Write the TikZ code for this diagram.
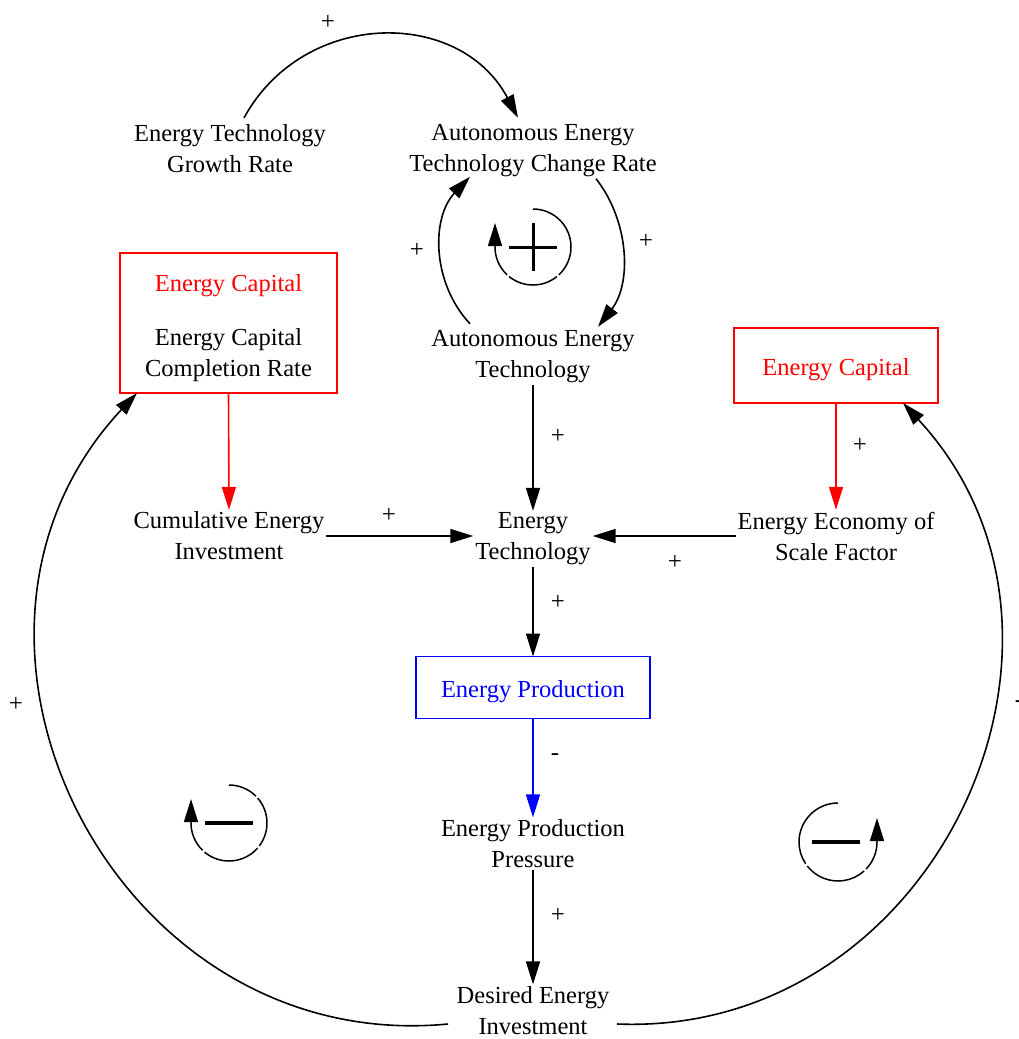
\documentclass[tikz,border=0pt]{standalone}
\usepackage{fontspec}
\setmainfont{Liberation Serif}
\usetikzlibrary{arrows.meta,calc}

\newcommand\varfont{\fontsize{24.5}{31}\selectfont}
\newcommand\signfont{\fontsize{25}{30}\selectfont}

\tikzset{
  var/.style={align=center, inner sep=2pt, outer sep=0pt, font=\varfont},
  sign/.style={inner sep=0pt, font=\signfont},
  box/.style={draw, line width=1.1pt, inner sep=0pt, outer sep=0pt,
              font=\varfont, text height=22pt, text depth=2pt},
  tip/.style={-{Triangle[length=23pt,width=14pt]}},
  link/.style={tip, line width=1.6pt},
  loopline/.style={line width=1.5pt},
}

\begin{document}
\begin{tikzpicture}[x=1pt, y=1pt]
\useasboundingbox (0,0) rectangle (1019,-1039);

% variables
\node[var] (ETGR)  at (230,-148.5) {Energy Technology\\Growth Rate};
\node[var] (AETCR) at (533,-151) {Autonomous Energy\\Technology Change Rate};
\node[var] (AET)   at (533,-357) {Autonomous Energy\\Technology};
\node[var] (CEI)   at (229,-536) {Cumulative Energy\\Investment};
\node[var] (ET)    at (533,-539) {Energy\\Technology};
\node[var] (EESF)  at (836,-536) {Energy Economy of\\Scale Factor};
\node[var] (EPP)   at (533,-843.5) {Energy Production\\Pressure};
\node[var] (DEI)   at (533,-1010.5) {Desired Energy\\Investment};

% boxed variables
\node[box, draw=red, minimum width=217pt, minimum height=140pt] (EC1) at (228.5,-323) {};
\node[var, text=red] (EC1t) at (228.5,-285.5) {Energy Capital};
\node[var] (ECCR) at (228.5,-355) {Energy Capital\\Completion Rate};
\node[box, draw=red, text=red, minimum width=204pt, minimum height=75pt] (EC2) at (836,-365.5) {Energy Capital};
\node[box, draw=blue, text=blue, minimum width=234pt, minimum height=62pt] (EP) at (533,-687.5) {Energy Production};

% curved links
\draw[link] ($(ETGR.north)+(14,4.5)$) .. controls +(61.3:124.5pt) and +(117.9:124.5pt) .. ($(AETCR.north)+(-15,5)$);
\draw[link] ($(AETCR.south)+(63,0.5)$) .. controls +(-51.9:54.6pt) and +(52.1:54.6pt) .. ($(AET.north)+(65,2)$);
\draw[link] ($(AET.north)+(-63,5)$) .. controls +(133.1:56.3pt) and +(226.5:56.3pt) .. ($(AETCR.south)+(-63,2.5)$);
\draw[link] ($(DEI.center)+(-85,-13.5)$) .. controls +(185.5:336pt) and +(226.9:336pt) .. ($(EC1.south west)+(17,0)$);
\draw[link] ($(DEI.center)+(84,-13.5)$) .. controls +(-2.3:319pt) and +(312.8:319pt) .. ($(EC2.south east)+(-35,0)$);

% straight links
\draw[link] (AET.south) -- (ET.north);
\draw[link, red] (EC1.south) -- (CEI.north);
\draw[link] (CEI.east) -- (CEI.east -| ET.west);
\draw[link] (EESF.west) -- (EESF.west -| ET.east);
\draw[link, red] (EC2.south) -- (EESF.north);
\draw[link] (ET.south) -- (EP.north);
\draw[link, blue] (EP.south) -- (EPP.north);
\draw[link] (EPP.south) -- (DEI.north);

% polarities
\node[sign] (s1)  at (328,-22)  {+};
\node[sign] (s2)  at (646,-241) {+};
\node[sign] (s3)  at (417,-250) {+};
\node[sign] (s4)  at (558,-436) {+};
\node[sign] (s5)  at (389,-515) {+};
\node[sign] (s6)  at (675,-562) {+};
\node[sign] (s7)  at (860,-445) {+};
\node[sign] (s8)  at (558,-602) {+};
\node[sign] (s9)  at (555,-757) {-};
\node[sign] (s10) at (558,-915) {+};
\node[sign] (s11) at (16,-704)  {+};
\node[sign] (s12) at (1019,-704) {-};

% reinforcing loop marker
\draw[loopline] (533,-209) arc[start angle=90, end angle=-47, radius=38pt];
\draw[loopline] ($(533,-247)+(-51:38pt)$) arc[start angle=-51, end angle=-129, radius=38pt];
\draw[loopline, tip] ($(533,-247)+(-133:38pt)$) arc[start angle=-133, end angle=-180, radius=38pt] -- ++(0,24);
\draw[line width=3pt] (509,-247) -- (557,-247) (533,-223) -- (533,-271);

% balancing loop marker, left
\draw[loopline] (229,-785) arc[start angle=90, end angle=45, radius=38pt];
\draw[loopline] ($(229,-823)+(41:38pt)$) arc[start angle=41, end angle=-37, radius=38pt];
\draw[loopline] ($(229,-823)+(-41:38pt)$) arc[start angle=-41, end angle=-130, radius=38pt];
\draw[loopline, tip] ($(229,-823)+(-134:38pt)$) arc[start angle=-134, end angle=-180, radius=38pt] -- ++(0,24);
\draw[line width=3.5pt] (205,-823) -- (253,-823);

% balancing loop marker, right
\draw[loopline] (838,-803) arc[start angle=90, end angle=214, radius=39pt];
\draw[loopline] ($(838,-842)+(218:39pt)$) arc[start angle=218, end angle=312, radius=39pt];
\draw[loopline, tip] ($(838,-842)+(316:39pt)$) arc[start angle=316, end angle=360, radius=39pt] -- ++(0,24);
\draw[line width=3.5pt] (812,-842) -- (860,-842);
\end{tikzpicture}
\end{document}
